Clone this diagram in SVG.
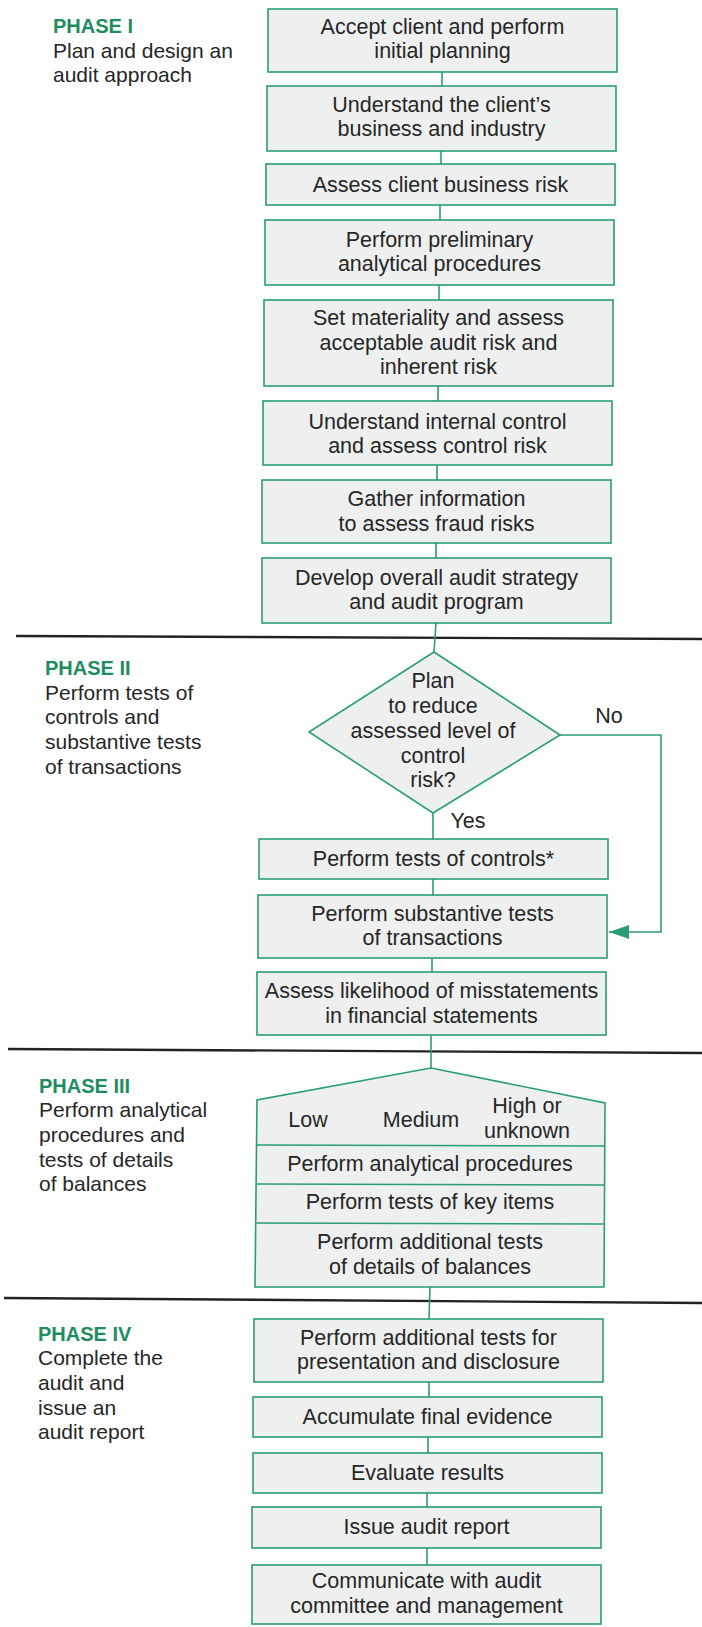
<svg xmlns="http://www.w3.org/2000/svg" width="702" height="1627" viewBox="0 0 702 1627">
<style>
.box{fill:#eef0ef;stroke:#2a9d74;stroke-width:1.6}
.t{font-family:"Liberation Sans",Arial,sans-serif;font-size:21.5px;fill:#262626;text-anchor:middle}
.l{font-family:"Liberation Sans",Arial,sans-serif;font-size:21px;fill:#262626}
.ph{font-family:"Liberation Sans",Arial,sans-serif;font-size:20px;font-weight:bold;fill:#1f8c5f}
.c{stroke:#2a9d74;stroke-width:1.6;fill:none}
.div{stroke:#222;stroke-width:2.4}
</style>
<defs>
<marker id="ah" viewBox="0 0 20 14" refX="20" refY="7" markerWidth="20" markerHeight="14" markerUnits="userSpaceOnUse" orient="auto">
<path d="M0,0 L20,7 L0,14 z" fill="#2a9d74"/>
</marker>
</defs>
<rect width="702" height="1627" fill="#ffffff"/>

<g id="dividers">
<line class="div" x1="16" y1="636" x2="702" y2="639"/>
<line class="div" x1="8" y1="1049" x2="702" y2="1053"/>
<line class="div" x1="4" y1="1298" x2="702" y2="1303"/>
</g>

<g id="phase1">
<text class="ph" x="53" y="33">PHASE I</text>
<text class="l" x="53" y="58">Plan and design an</text>
<text class="l" x="53" y="82">audit approach</text>
</g>
<g id="phase2">
<text class="ph" x="45" y="675">PHASE II</text>
<text class="l" x="45" y="700">Perform tests of</text>
<text class="l" x="45" y="724">controls and</text>
<text class="l" x="45" y="749">substantive tests</text>
<text class="l" x="45" y="774">of transactions</text>
</g>
<g id="phase3">
<text class="ph" x="39" y="1093">PHASE III</text>
<text class="l" x="39" y="1117">Perform analytical</text>
<text class="l" x="39" y="1142">procedures and</text>
<text class="l" x="39" y="1167">tests of details</text>
<text class="l" x="39" y="1191">of balances</text>
</g>
<g id="phase4">
<text class="ph" x="38" y="1341">PHASE IV</text>
<text class="l" x="38" y="1365">Complete the</text>
<text class="l" x="38" y="1390">audit and</text>
<text class="l" x="38" y="1415">issue an</text>
<text class="l" x="38" y="1439">audit report</text>
</g>

<g id="connectors">
<line class="c" x1="442" y1="72" x2="442" y2="86"/>
<line class="c" x1="441" y1="151" x2="441" y2="164"/>
<line class="c" x1="440" y1="205" x2="440" y2="220"/>
<line class="c" x1="439" y1="285" x2="439" y2="300"/>
<line class="c" x1="438" y1="386" x2="438" y2="401"/>
<line class="c" x1="437" y1="465" x2="437" y2="480"/>
<line class="c" x1="436" y1="543" x2="436" y2="558"/>
<line class="c" x1="436" y1="623" x2="434" y2="652"/>
<line class="c" x1="433" y1="813" x2="433" y2="839"/>
<line class="c" x1="433" y1="879" x2="433" y2="895"/>
<line class="c" x1="432" y1="958" x2="432" y2="972"/>
<line class="c" x1="431" y1="1035" x2="431" y2="1068"/>
<line class="c" x1="430" y1="1287" x2="429" y2="1319"/>
<line class="c" x1="429" y1="1382" x2="429" y2="1397"/>
<line class="c" x1="428" y1="1437" x2="428" y2="1453"/>
<line class="c" x1="427" y1="1493" x2="427" y2="1507"/>
<line class="c" x1="427" y1="1548" x2="427" y2="1565"/>
<polyline class="c" points="560,735 661,735 661,932 609,932" marker-end="url(#ah)"/>
<text class="t" x="609" y="723">No</text>
<text class="t" x="468" y="828">Yes</text>
</g>

<g id="n1"><rect class="box" x="268" y="9" width="349" height="63"/>
<text class="t" x="442.5" y="34">Accept client and perform</text>
<text class="t" x="442.5" y="58">initial planning</text></g>
<g id="n2"><rect class="box" x="267" y="86" width="349" height="65"/>
<text class="t" x="441.5" y="112">Understand the client’s</text>
<text class="t" x="441.5" y="136">business and industry</text></g>
<g id="n3"><rect class="box" x="266" y="164" width="349" height="41"/>
<text class="t" x="440.5" y="191.5">Assess client business risk</text></g>
<g id="n4"><rect class="box" x="265" y="220" width="349" height="65"/>
<text class="t" x="439.5" y="246.5">Perform preliminary</text>
<text class="t" x="439.5" y="271">analytical procedures</text></g>
<g id="n5"><rect class="box" x="264" y="300" width="349" height="86"/>
<text class="t" x="438.5" y="325">Set materiality and assess</text>
<text class="t" x="438.5" y="349.5">acceptable audit risk and</text>
<text class="t" x="438.5" y="374">inherent risk</text></g>
<g id="n6"><rect class="box" x="263" y="401" width="349" height="64"/>
<text class="t" x="437.5" y="428.5">Understand internal control</text>
<text class="t" x="437.5" y="453">and assess control risk</text></g>
<g id="n7"><rect class="box" x="262" y="480" width="349" height="63"/>
<text class="t" x="436.5" y="506">Gather information</text>
<text class="t" x="436.5" y="530.5">to assess fraud risks</text></g>
<g id="n8"><rect class="box" x="262" y="558" width="349" height="65"/>
<text class="t" x="436.5" y="584.5">Develop overall audit strategy</text>
<text class="t" x="436.5" y="609">and audit program</text></g>

<g id="decision"><polygon class="box" points="434,652 560,735 433,813 309,732"/>
<text class="t" x="433" y="688">Plan</text>
<text class="t" x="433" y="713">to reduce</text>
<text class="t" x="433" y="738">assessed level of</text>
<text class="t" x="433" y="763">control</text>
<text class="t" x="433" y="787">risk?</text></g>

<g id="n9"><rect class="box" x="259" y="839" width="349" height="40"/>
<text class="t" x="433.5" y="866">Perform tests of controls*</text></g>
<g id="n10"><rect class="box" x="258" y="895" width="349" height="63"/>
<text class="t" x="432.5" y="920.5">Perform substantive tests</text>
<text class="t" x="432.5" y="945">of transactions</text></g>
<g id="n11"><rect class="box" x="257" y="972" width="349" height="63"/>
<text class="t" x="431.5" y="998">Assess likelihood of misstatements</text>
<text class="t" x="431.5" y="1022.5">in financial statements</text></g>

<g id="n12">
<polygon class="box" points="431,1068 605,1103 604,1287 255,1287 257,1100"/>
<line class="c" x1="256" y1="1145" x2="605" y2="1146"/>
<line class="c" x1="256" y1="1184" x2="604" y2="1185"/>
<line class="c" x1="255" y1="1223" x2="604" y2="1224"/>
<text class="t" x="308" y="1127">Low</text>
<text class="t" x="421" y="1127">Medium</text>
<text class="t" x="527" y="1113">High or</text>
<text class="t" x="527" y="1138">unknown</text>
<text class="t" x="430" y="1171">Perform analytical procedures</text>
<text class="t" x="430" y="1209">Perform tests of key items</text>
<text class="t" x="430" y="1249">Perform additional tests</text>
<text class="t" x="430" y="1274">of details of balances</text>
</g>

<g id="n13"><rect class="box" x="254" y="1319" width="349" height="63"/>
<text class="t" x="428.5" y="1344.5">Perform additional tests for</text>
<text class="t" x="428.5" y="1369">presentation and disclosure</text></g>
<g id="n14"><rect class="box" x="253" y="1397" width="349" height="40"/>
<text class="t" x="427.5" y="1423.5">Accumulate final evidence</text></g>
<g id="n15"><rect class="box" x="253" y="1453" width="349" height="40"/>
<text class="t" x="427.5" y="1479.5">Evaluate results</text></g>
<g id="n16"><rect class="box" x="252" y="1507" width="349" height="41"/>
<text class="t" x="426.5" y="1534">Issue audit report</text></g>
<g id="n17"><rect class="box" x="252" y="1565" width="349" height="59"/>
<text class="t" x="426.5" y="1588">Communicate with audit</text>
<text class="t" x="426.5" y="1613">committee and management</text></g>
</svg>
